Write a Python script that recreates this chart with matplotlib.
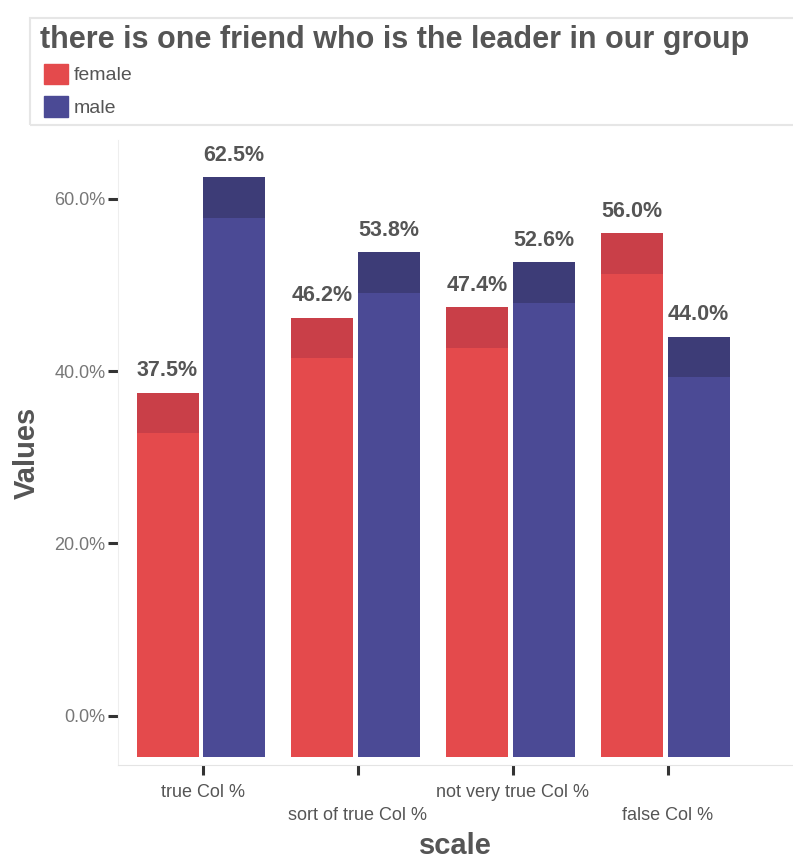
import numpy as np
import matplotlib.pyplot as plt
from matplotlib.patches import Rectangle, Patch

plt.rcParams['font.family'] = ['Liberation Sans', 'DejaVu Sans']

# data
categories = ['true Col %', 'sort of true Col %', 'not very true Col %', 'false Col %']
female = [37.5, 46.2, 47.4, 56.0]
male = [62.5, 53.8, 52.6, 44.0]
series_names = ['female', 'male']
yticks = [0, 20, 40, 60]

red, red_top = '#e44a4c', '#c93f48'
blue, blue_top = '#4b4a95', '#3d3c77'
text_grey = '#555555'

W, H = 793, 866
fig = plt.figure(figsize=(W / 100, H / 100), dpi=100)

def px(x0, y0, x1, y1):
    # pixel box (top-left origin) -> figure fraction
    return [x0 / W, 1 - y1 / H, (x1 - x0) / W, (y1 - y0) / H]

ax = fig.add_axes(px(118, 140, 793, 765))

x = np.arange(len(categories))
width = 0.4
base = -4.8     # bars in the picture start a bit below 0
cap = 4.7       # darker "top face" of each bar

for vals, off, col, topcol in [(female, -0.23, red, red_top), (male, 0.2, blue, blue_top)]:
    vals = np.array(vals)
    ax.bar(x + off, vals - base, width, bottom=base, color=col, linewidth=0)
    ax.bar(x + off, cap, width, bottom=vals - cap, color=topcol, linewidth=0)
    for xi, v in zip(x + off, vals):
        ax.annotate(f'{v:.1f}%', (xi, v), xytext=(0, 8), textcoords='offset points',
                    ha='center', va='bottom', fontsize=15.5, fontweight='bold', color=text_grey)

ax.set_xlim(-0.55, 3.81)
ax.set_ylim(-5.7, 66.8)
ax.set_yticks(yticks)
ax.set_yticklabels([f'{t:.1f}%' for t in yticks])
ax.set_xticks(x)
ax.set_xticklabels(categories)
ax.tick_params(axis='y', length=7, width=2.2, color='#333333', labelsize=13,
               labelcolor='#777777', pad=2)
ax.tick_params(axis='x', length=7, width=2.2, color='#333333', labelsize=13,
               labelcolor=text_grey, direction='out', pad=7)
for i, t in enumerate(ax.xaxis.get_major_ticks()):
    if i % 2 == 1:
        t.set_pad(23)

for s in ['top', 'right']:
    ax.spines[s].set_visible(False)
ax.spines['left'].set_color('#eeeeee')
ax.spines['bottom'].set_color('#e4e4e4')

ax.set_ylabel('Values', fontsize=21, fontweight='bold', color=text_grey, labelpad=10)
ax.set_xlabel('scale', fontsize=21, fontweight='bold', color=text_grey, labelpad=6)

# title / legend box
fig.patches.append(Rectangle((30 / W, 1 - 125 / H), (W - 28) / W, 107 / H,
                             transform=fig.transFigure, fill=False,
                             edgecolor='#e6e6e6', linewidth=1.5))
fig.text(40 / W, 1 - 40 / H, 'there is one friend who is the leader in our group',
         fontsize=22, fontweight='bold', color=text_grey, va='center', ha='left')
handles = [Patch(color=red, label=series_names[0]), Patch(color=blue, label=series_names[1])]
fig.legend(handles=handles, loc='upper left', bbox_to_anchor=(30 / W, 1 - 50 / H),
           frameon=False, fontsize=14, labelcolor=text_grey, handlelength=1.25,
           handleheight=1.25, handletextpad=0.3, labelspacing=0.6, borderpad=0.2)

fig.savefig('out.png', dpi=100)
